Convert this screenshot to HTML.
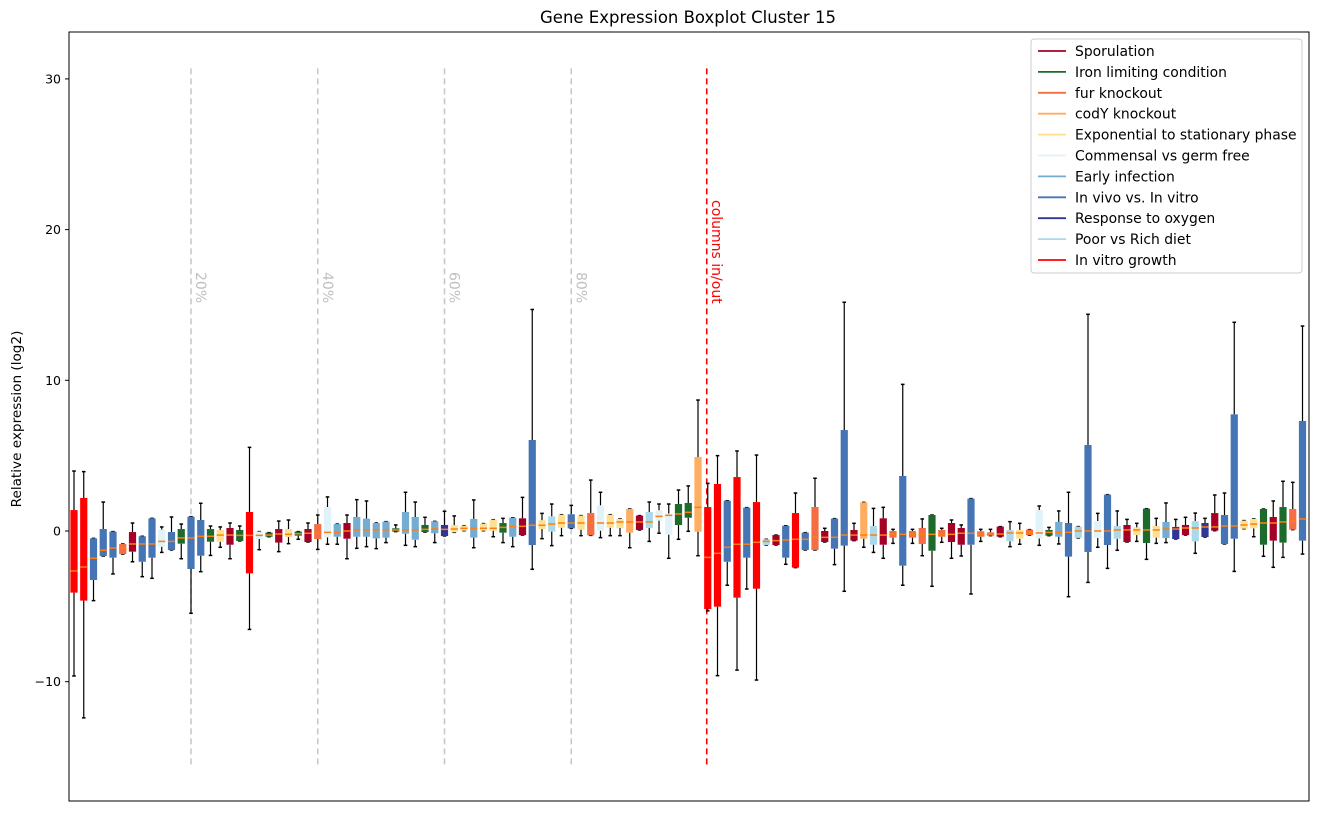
<!DOCTYPE html>
<html><head><meta charset="utf-8"><style>
body{margin:0;background:#fff;font-family:"Liberation Sans",sans-serif}
svg text{font-family:"DejaVu Sans","Liberation Sans",sans-serif}
</style></head><body>
<svg id="chart" width="1318" height="812" xmlns="http://www.w3.org/2000/svg">
<rect width="1318" height="812" fill="#fff"/>
<text x="688" y="23" font-size="16.5" text-anchor="middle">Gene Expression Boxplot Cluster 15</text>
<text transform="translate(21,419) rotate(-90)" font-size="13.6" text-anchor="middle">Relative expression (log2)</text>
<g id="grid"></g><g id="boxes"></g><g id="yaxis"></g>
<rect x="69" y="32" width="1240" height="769" fill="none" stroke="#000" stroke-width="1"/>
<g id="legend"></g>
</svg>
<script>
const catNames=["Sporulation","Iron limiting condition","fur knockout","codY knockout","Exponential to stationary phase","Commensal vs germ free","Early infection","In vivo vs. In vitro","Response to oxygen","Poor vs Rich diet","In vitro growth"];
const catColors=["#a50026","#1d6b2c","#f46d43","#fdae61","#fee090","#e0f3f8","#74add1","#4575b4","#313695","#abd9e9","#ff0000"];
const boxCats=[10,10,7,7,7,2,0,7,7,5,7,1,7,7,1,4,0,1,10,5,1,0,4,1,0,2,5,6,0,6,6,6,6,1,6,6,1,6,8,4,4,6,4,4,1,6,0,7,4,9,4,7,4,2,5,4,4,3,0,9,5,5,1,1,3,
10,10,7,10,7,10,9,0,7,10,7,2,0,7,7,0,3,9,0,2,7,2,2,1,2,0,0,7,2,2,0,
9,4,2,5,1,6,7,9,7,5,7,9,0,4,1,4,6,8,0,9,8,0,7,7,4,4,1,0,1,2,7];
const whiskerHigh=[3.98,3.94,-0.49,1.92,-0.04,-0.86,0.53,-0.35,0.84,0.27,0.93,0.46,0.95,1.84,0.33,0.27,0.53,0.33,5.55,-0.04,-0.11,0.66,0.73,-0.04,0.53,1.06,2.26,0.46,1.06,2.08,1.99,0.53,0.62,0.4,2.57,1.92,0.91,0.64,1.31,1.0,0.35,2.06,0.49,0.75,0.84,0.88,2.23,14.7,1.17,1.79,1.08,1.7,1.02,3.38,2.57,1.08,0.8,1.46,1.02,1.92,1.79,1.79,2.72,2.99,8.69,
3.16,5.0,2.01,5.31,1.55,5.04,-0.55,-0.27,0.35,2.52,-0.11,3.5,0.18,0.82,15.18,0.51,1.9,1.5,1.57,0.11,9.73,0.11,0.8,1.06,0.18,0.73,0.4,2.15,0.11,0.11,0.29,
0.62,0.51,0.09,1.66,0.24,1.33,2.57,0.29,14.38,1.17,2.41,1.33,0.77,0.51,1.48,0.84,1.86,0.77,0.91,1.19,0.84,2.39,2.52,13.85,0.69,0.8,1.46,1.99,3.3,3.23,13.6];
const q3Values=[1.39,2.19,-0.49,0.13,-0.04,-0.86,-0.07,-0.35,0.84,0.09,-0.07,0.13,0.95,0.73,0.13,0.07,0.2,0.07,1.26,-0.04,-0.11,0.13,0.13,-0.04,0.13,0.46,1.59,0.46,0.53,0.93,0.82,0.53,0.62,0.18,1.26,0.93,0.4,0.64,0.4,0.38,0.35,0.8,0.49,0.75,0.53,0.88,0.84,6.04,0.71,0.97,1.08,1.11,1.02,1.19,1.7,1.08,0.8,1.46,1.02,1.26,1.37,1.15,1.79,1.86,4.91,
1.59,3.12,2.01,3.58,1.55,1.92,-0.55,-0.27,0.35,1.19,-0.11,1.59,0,0.82,6.7,0.07,1.9,0.33,0.84,0,3.65,0,0.2,1.06,0.07,0.53,0.2,2.15,-0.02,-0.09,0.29,
0.07,0.07,0.09,1.39,0.07,0.6,0.53,0.29,5.71,0.66,2.41,0.33,0.4,0.24,1.48,0.33,0.6,0.27,0.4,0.66,0.53,1.19,1.06,7.74,0.69,0.8,1.46,0.93,1.59,1.46,7.3];
const medianValues=[-2.65,-2.39,-1.81,-1.28,-1.13,-1.13,-0.86,-0.86,-0.86,-0.69,-0.69,-0.46,-0.46,-0.35,-0.35,-0.27,-0.27,-0.29,-0.29,-0.29,-0.27,-0.2,-0.22,-0.18,-0.15,-0.15,-0.09,-0.09,0,0.07,0.07,0.07,0.07,0.07,0.07,0.07,0.11,0.13,0.11,0.13,0.18,0.18,0.18,0.18,0.24,0.31,0.31,0.38,0.38,0.46,0.53,0.53,0.53,0.53,0.53,0.53,0.6,0.6,0.6,0.6,0.97,1.04,1.13,1.24,1.57,
-1.75,-1.48,-1.08,-0.88,-0.88,-0.75,-0.69,-0.64,-0.6,-0.55,-0.55,-0.42,-0.42,-0.42,-0.27,-0.27,-0.27,-0.27,-0.27,-0.22,-0.22,-0.22,-0.22,-0.22,-0.22,-0.22,-0.15,-0.15,-0.2,-0.2,-0.2,
-0.13,-0.13,-0.09,-0.13,-0.09,-0.09,-0.09,0,0,0,0,0.07,0.07,0.07,0.07,0.07,0.13,0.13,0.2,0.2,0.27,0.27,0.33,0.33,0.4,0.46,0.53,0.53,0.6,0.66,0.8];
const q1Values=[-4.09,-4.62,-3.25,-1.66,-1.77,-1.53,-1.37,-2.04,-1.77,-1.04,-1.26,-0.84,-2.52,-1.64,-0.71,-0.71,-0.91,-0.66,-2.81,-0.53,-0.38,-0.77,-0.4,-0.31,-0.73,-0.53,-0.42,-0.38,-0.51,-0.38,-0.38,-0.49,-0.44,-0.04,-0.18,-0.58,-0.07,-0.15,-0.33,-0.09,0.02,-0.44,0.02,0.02,-0.11,-0.38,-0.27,-0.93,0.13,-0.04,0.22,0.18,0.09,-0.29,0.02,0.22,0.2,-0.11,0.07,0.2,0.69,-0.24,0.4,0.88,-0.04,
-5.18,-5.02,-2.04,-4.42,-1.77,-3.83,-0.93,-0.93,-1.77,-2.43,-1.26,-1.26,-0.73,-1.17,-0.97,-0.64,-0.51,-0.91,-0.91,-0.44,-2.3,-0.44,-0.86,-1.31,-0.38,-0.73,-0.91,-0.91,-0.38,-0.31,-0.38,
-0.69,-0.51,-0.27,-0.49,-0.31,-0.38,-1.7,-0.46,-1.39,-0.46,-0.93,-0.51,-0.73,-0.27,-0.8,-0.44,-0.46,-0.53,-0.27,-0.69,-0.4,0.02,-0.86,-0.51,0.15,0.18,-0.91,-0.64,-0.77,0.09,-0.64];
const whiskerLow=[-9.62,-12.4,-4.62,-1.66,-2.85,-1.53,-2.04,-3.03,-3.14,-1.42,-1.26,-1.84,-5.46,-2.7,-1.62,-1.08,-1.84,-0.66,-6.53,-1.24,-0.38,-1.37,-0.84,-0.55,-0.73,-1.22,-0.88,-0.88,-1.84,-1.15,-1.04,-1.17,-0.77,-0.04,-0.95,-1.04,-0.07,-0.77,-0.33,-0.09,0.02,-1.11,0.02,-0.38,-0.77,-1.04,-0.27,-2.54,-0.51,-0.97,-0.31,0.18,-0.31,-0.29,-0.44,-0.31,-0.31,-1.11,0.07,-0.69,-0.15,-1.81,-0.55,-0.02,-1.64,
-5.3,-9.6,-3.6,-9.23,-3.85,-9.89,-0.93,-0.93,-2.21,-2.43,-1.26,-1.26,-0.73,-2.23,-4.0,-0.64,-1.08,-1.42,-1.81,-0.82,-3.6,-0.82,-1.64,-3.67,-0.75,-1.81,-1.66,-4.18,-0.69,-0.31,-0.38,
-1.04,-0.88,-0.27,-0.95,-0.31,-0.86,-4.36,-0.46,-3.41,-1.08,-2.48,-1.28,-0.73,-0.69,-1.88,-0.82,-0.77,-0.53,-0.27,-1.48,-0.4,0.02,-0.86,-2.68,0.15,-0.38,-1.68,-2.41,-1.75,0.09,-1.53];
const yTicks=[30,20,10,0,-10];
const pctLines=[12,25,38,51];
const pctLabels=["20%","40%","60%","80%"];
const inOutIndex=65;

const NS="http://www.w3.org/2000/svg";
const xScale=i=>74+i*9.75;
const yScale=v=>531-v*15.07;
function mk(tag,attrs,parent){const e=document.createElementNS(NS,tag);for(const k in attrs)e.setAttribute(k,attrs[k]);parent.appendChild(e);return e;}
const grid=document.getElementById('grid'),boxes=document.getElementById('boxes'),yaxis=document.getElementById('yaxis'),legend=document.getElementById('legend');
const yTop=yScale(30.7),yBot=yScale(-15.6);
pctLines.forEach((idx,k)=>{
  const x=xScale(idx);
  const l=mk('line',{x1:x,x2:x,y1:yTop,y2:yBot,stroke:'#c8c8c8','stroke-width':1.6,'stroke-dasharray':'6,4'},grid);
  
  
  const t=mk('text',{transform:`translate(${x+5},272) rotate(90)`,'font-size':14,fill:'#c0c0c0'},grid);
  t.textContent=pctLabels[k];
  
  
});
{
  const x=xScale(inOutIndex)-1;
  const l=mk('line',{x1:x,x2:x,y1:yTop,y2:yBot,stroke:'#ff0000','stroke-width':1.6,'stroke-dasharray':'6,4'},grid);
  
  
  const t=mk('text',{transform:`translate(${x+5},200) rotate(90)`,'font-size':14,fill:'#ff0000'},grid);
  t.textContent='columns in/out';
  
  
}
boxCats.forEach((c,i)=>{
  const x=xScale(i);
  const g=mk('g',{},boxes);
  
  
  mk('line',{x1:x,x2:x,y1:yScale(whiskerHigh[i]),y2:yScale(q3Values[i]),stroke:'#000','stroke-width':1.2},g);
  mk('line',{x1:x,x2:x,y1:yScale(q1Values[i]),y2:yScale(whiskerLow[i]),stroke:'#000','stroke-width':1.2},g);
  mk('line',{x1:x-1.8,x2:x+1.8,y1:yScale(whiskerHigh[i]),y2:yScale(whiskerHigh[i]),stroke:'#000','stroke-width':1.5},g);
  mk('line',{x1:x-1.8,x2:x+1.8,y1:yScale(whiskerLow[i]),y2:yScale(whiskerLow[i]),stroke:'#000','stroke-width':1.5},g);
  const t=yScale(q3Values[i]),b=yScale(q1Values[i]);
  mk('rect',{x:x-3.6,y:t,width:7.2,height:Math.max(b-t,1.5),fill:catColors[c]},g);
  const m=yScale(medianValues[i]);
  mk('line',{x1:x-3.6,x2:x+3.6,y1:m,y2:m,stroke:'#ff7f0e','stroke-width':1.5},g);
});
yTicks.forEach(v=>{
  const y=yScale(v);
  const tk=mk('line',{x1:65,x2:69,y1:y,y2:y,stroke:'#000'},yaxis);
  
  
  const t=mk('text',{x:61,y:y+4.5,'font-size':12.5,'text-anchor':'end'},yaxis);
  t.textContent=v<0?'\u2212'+Math.abs(v):String(v);
  
  
});
mk('rect',{x:1031,y:39,width:271,height:234,fill:'#fff',stroke:'#ccc',rx:3},legend);
catNames.forEach((n,k)=>{
  const y=51+k*20.9;
  const g=mk('g',{},legend);
  
  
  mk('line',{x1:1038,x2:1066,y1:y,y2:y,stroke:catColors[k],'stroke-width':1.8},g);
  const t=mk('text',{x:1075,y:y+5,'font-size':13.9},g);
  t.textContent=n;
});
</script>
</body></html>
